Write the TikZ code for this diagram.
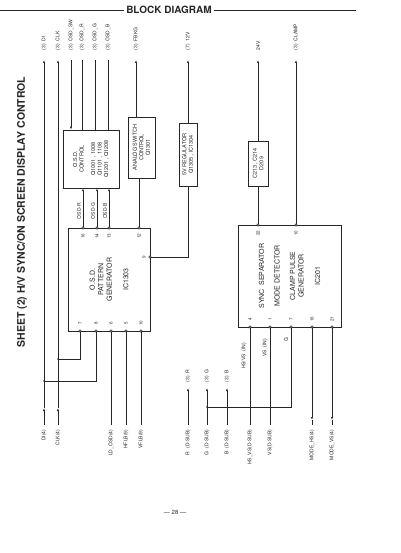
\documentclass[tikz,border=0pt]{standalone}
\usepackage{fontspec}
\setmainfont{TeX Gyre Heros}
\usetikzlibrary{arrows.meta}

\begin{document}
\begin{tikzpicture}[
  x=1pt, y=-1pt,
  black!85, line width=0.5pt,
  blk/.style={draw, rectangle, inner sep=0pt, align=center, rotate=90, font=\fontsize{5.5}{6.5}\selectfont},
  pin/.style={circle, draw, fill=white, minimum size=2.4pt, inner sep=0pt},
  pnum/.style={rotate=90, inner sep=0pt, font=\fontsize{4.5}{5}\selectfont},
  sig/.style={rotate=90, inner sep=0.5pt, font=\fontsize{5}{6}\selectfont},
  tip/.style={-{Latex[length=3pt,width=2pt]}},
  dot/.style={circle, fill, minimum size=1.8pt, inner sep=0pt}
]
  \useasboundingbox (0,0) rectangle (400,553);

  % heading
  \node[rotate=90, font=\bfseries\fontsize{10.5}{12}\selectfont] (title) at (22,212) {SHEET (2) H/V SYNC/ON SCREEN DISPLAY CONTROL};
  \node[font=\bfseries\fontsize{10}{12}\selectfont, inner sep=2pt] (bd) at (169,10) {BLOCK DIAGRAM};
  \coordinate (rulel) at (0,10);
  \coordinate (ruler) at (356,10);
  \draw (rulel) -- (bd);
  \draw (bd) -- (ruler);
  \node[font=\fontsize{6}{7}\selectfont] (pageno) at (175,512) {--- 28 ---};

  % blocks
  \node[blk, minimum width=58pt, minimum height=56pt] (osdctl) at (91,159)
    {O.S.D.\\CONTROL\\[5pt]Q1001 , 1008\\Q1101 , 1108\\Q1201 , Q1208};
  \node[blk, minimum width=103pt, minimum height=82pt, font=\fontsize{7}{8.5}\selectfont] (ic1303) at (109,279.5)
    {O.S.D.\\PATTERN\\GENERATOR\\[8pt]IC1303};
  \node[blk, minimum width=61pt, minimum height=27pt] (anasw) at (141.5,147.5)
    {ANALOG SWITCH\\CONTROL\\Q1301};
  \node[blk, minimum width=63pt, minimum height=18pt] (reg5v) at (188,154.5)
    {5V REGULATOR\\Q1305 , IC1304};
  \node[blk, minimum width=45pt, minimum height=20pt] (cdbox) at (258,163.5)
    {C213 , C214\\D209};
  \node[blk, minimum width=102pt, minimum height=103pt, font=\fontsize{7}{8.5}\selectfont] (ic201) at (289.5,276)
    {SYNC\ \ SEPARATOR\\[7pt]MODE DETECTOR\\[7pt]CLAMP PULSE\\GENERATOR\\[8pt]IC201};

  % pins of IC1303
  \foreach \n/\x in {7/80,8/96,6/111,5/126,10/141} {
    \node[pin] (g\n) at (\x,331) {};
    \node[pnum] (gn\n) at (\x,323) {\n};
  }
  \foreach \n/\x in {16/83,14/97,13/109,12/139} {
    \node[pin] (g\n) at (\x,228) {};
    \node[pnum] (gn\n) at (\x,236) {\n};
  }
  \node[pin] (g9) at (150,257) {};
  \node[pnum] (gn9) at (144,257) {9};

  % pins of IC201
  \foreach \n/\x in {22/258,10/296} {
    \node[pin] (s\n) at (\x,225) {};
    \node[pnum] (sn\n) at (\x,233) {\n};
  }
  \foreach \n/\x in {4/250,1/270,7/291,16/312,21/332} {
    \node[pin] (s\n) at (\x,327) {};
    \node[pnum] (sn\n) at (\x,319) {\n};
  }

  % top terminals
  \foreach \s/\x/\t in {di/44/(3)\ \ DI, clk/58/(3)\ \ CLK, osdsw/71/(3)\ \ OSD\_SW,
      osdr/82/(3)\ \ OSD\_R, osdg/95/(3)\ \ OSD\_G, osdb/108/(3)\ \ OSD\_B,
      fbkg/136/(3)\ \ FBKG, v12/188/(7)\ \ 12V, v24/258/24V, clamp/296/(3)\ \ CLAMP} {
    \coordinate (t_\s) at (\x,60);
    \node[sig, anchor=west] (l_\s) at (\x,51) {\t};
  }

  % bottom terminals
  \foreach \s/\x/\t in {di/44/DI(4), clk/58/CLK(4), ld/111/LD\_OSD(4), hflb/126/HFLB(9),
      vflb/141/VFLB(9), r/188/R\ \ (D-SUB), g/207/G\ \ (D-SUB), b/227/B\ \ (D-SUB),
      hsvs/250/HS\_VS(D-SUB), vs/270/VS(D-SUB), mhs/312/MODE\_HS(4), mvs/332/MODE\_VS(4)} {
    \coordinate (b_\s) at (\x,425);
    \node[sig, anchor=east] (lb_\s) at (\x,429) {\t};
  }
  \foreach \s/\x/\t in {r/188/(3)\ \ R, g/207/(3)\ \ G, b/227/(3)\ \ B} {
    \coordinate (t_\s) at (\x,388);
    \node[sig, anchor=west] (l_\s) at (\x,383) {\t};
  }

  % DI and CLK
  \coordinate (m_di) at (44,408);
  \coordinate (m_clk) at (58,408);
  \node[dot] (j_di) at (44,381) {};
  \node[dot] (j_clk) at (58,359) {};
  \draw[tip] (b_di) -- (m_di);
  \draw[tip] (m_di) -- (t_di);
  \draw[tip] (b_clk) -- (m_clk);
  \draw[tip] (m_clk) -- (t_clk);
  \draw (j_di.center) -| (g8);
  \draw (j_clk.center) -| (g7);
  \draw (b_ld) -- (g6);
  \draw (b_hflb) -- (g5);
  \draw (b_vflb) -- (g10);

  % O.S.D. control
  \draw[tip] (g16) -- (g16 |- osdctl.west);
  \draw[tip] (g14) -- (g14 |- osdctl.west);
  \draw[tip] (g13) -- (g13 |- osdctl.west);
  \node[sig] (l_osdr2) at (79,211) {OSD-R};
  \node[sig] (l_osdg2) at (93,211) {OSD-G};
  \node[sig] (l_osdb2) at (105,211) {OSD-B};
  \draw[tip] (t_osdsw) -- (t_osdsw |- osdctl.east);
  \draw (t_osdr |- osdctl.east) -- (t_osdr);
  \draw (t_osdg |- osdctl.east) -- (t_osdg);
  \draw (t_osdb |- osdctl.east) -- (t_osdb);

  % analog switch and regulator
  \draw (g12) -- (g12 |- anasw.west);
  \draw[tip] (t_fbkg |- anasw.east) -- (t_fbkg);
  \draw (g9) -| (reg5v);
  \draw[tip] (t_v12 |- reg5v.east) -- (t_v12);

  % IC201
  \draw (s22) -- (cdbox);
  \draw[tip] (t_v24 |- cdbox.east) -- (t_v24);
  \draw[tip] (s10) -- (t_clamp);
  \draw[tip] (b_r) -- (t_r);
  \draw[tip] (b_g) -- (t_g);
  \draw[tip] (b_b) -- (t_b);
  \node[dot] (j_g) at (207,407) {};
  \draw (j_g.center) -| (s7);
  \draw (b_hsvs) -- (s4);
  \draw (b_vs) -- (s1);
  \node[sig] (l_hsvs) at (244,356) {HS/VS\ \ (IN)};
  \node[sig] (l_vsin) at (265,348) {VS\ \ (IN)};
  \node[sig] (l_gin) at (286,340) {G};
  \coordinate (m_mhs) at (312,420);
  \coordinate (m_mvs) at (332,420);
  \draw[tip] (s16) -- (m_mhs);
  \draw (m_mhs) -- (b_mhs);
  \draw[tip] (s21) -- (m_mvs);
  \draw (m_mvs) -- (b_mvs);
\end{tikzpicture}
\end{document}
